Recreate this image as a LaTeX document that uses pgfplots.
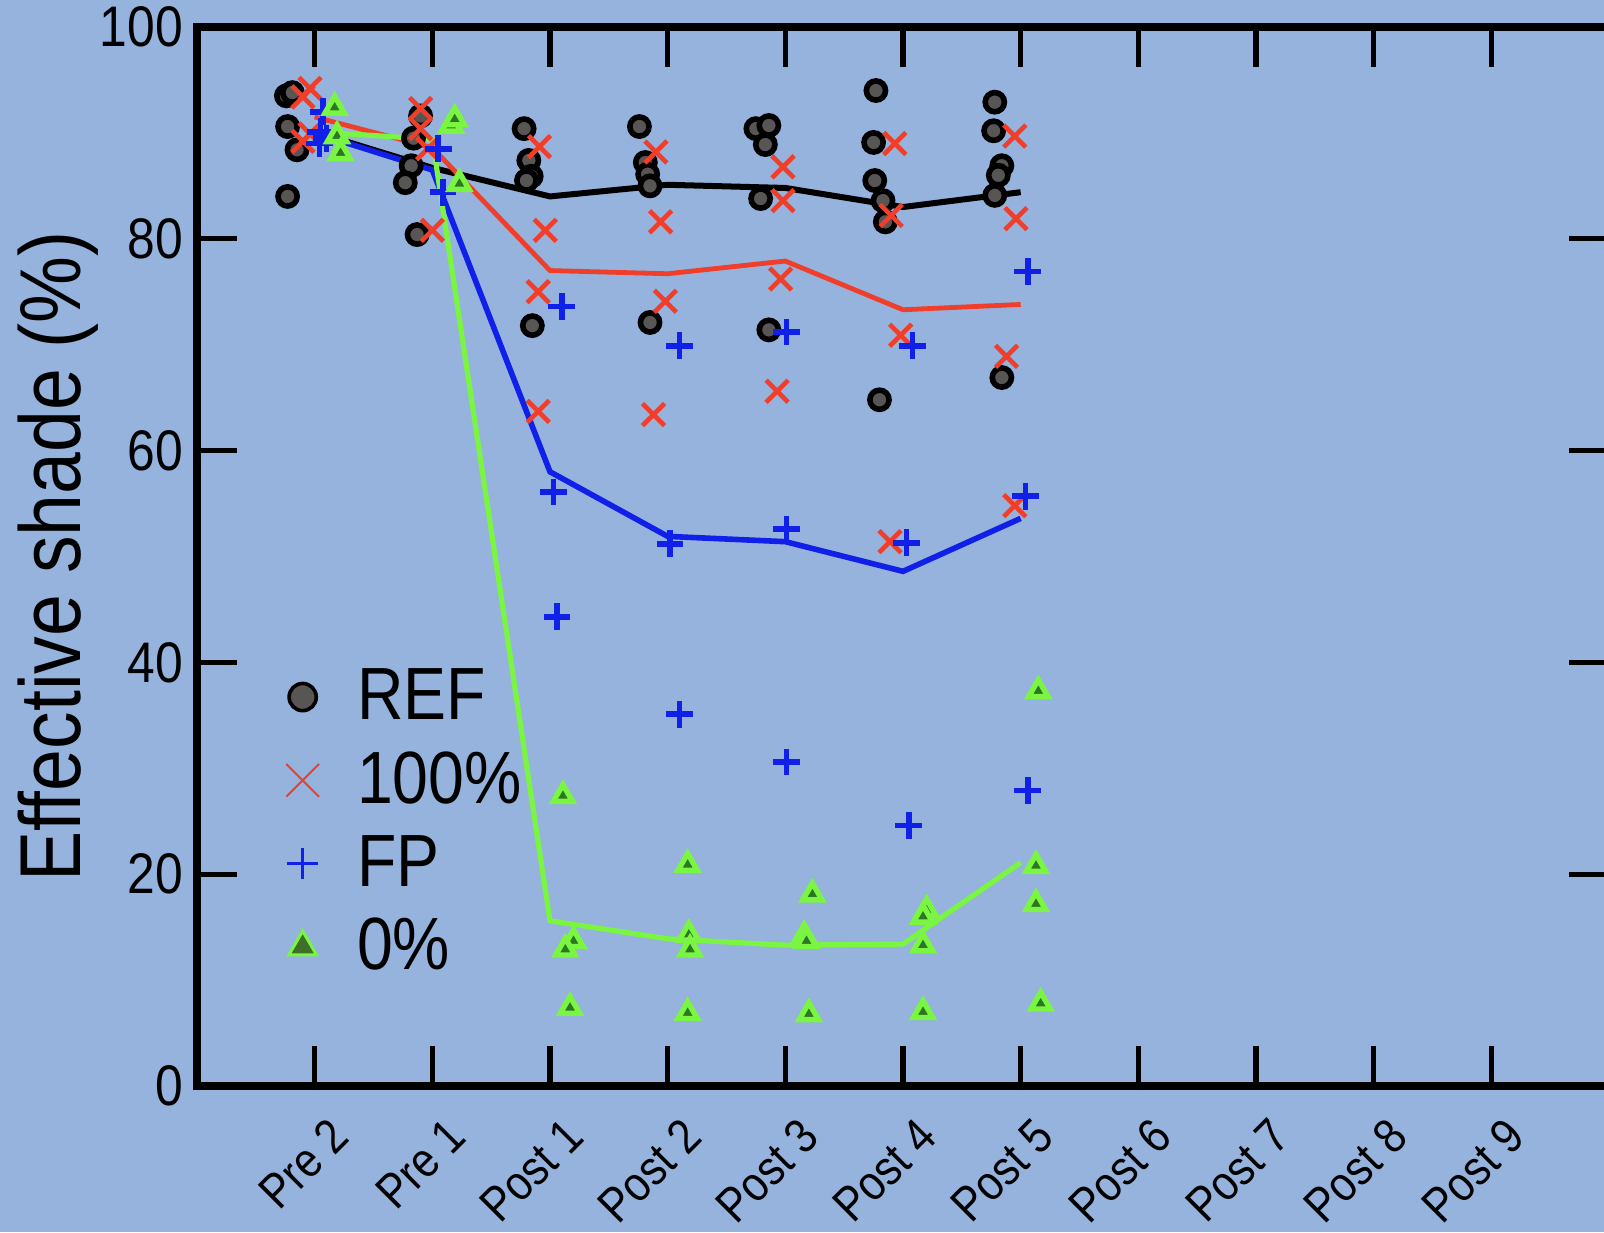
\documentclass[border=0pt]{standalone}
\usepackage{pgfplots}
\pgfplotsset{compat=1.18}
\usepackage{fontspec}
\setmainfont{Liberation Sans}[FakeStretch=0.87]
\definecolor{bg}{RGB}{149,179,220}
\definecolor{myred}{RGB}{240,62,42}
\definecolor{myblue}{RGB}{16,32,232}
\definecolor{mygreen}{RGB}{122,246,66}
\definecolor{dkgreen}{RGB}{45,118,35}
\definecolor{lgdgreen}{RGB}{62,112,42}
\definecolor{dkgrey}{RGB}{88,86,84}
\begin{document}
\begin{tikzpicture}
\path[fill=bg, use as bounding box] (0,0) rectangle (401pt,308pt);
\begin{axis}[
  at={(49.25pt,36.5pt)}, anchor=south west, scale only axis,
  width=353pt, height=264.75pt,
  xmin=0, xmax=12, ymin=0, ymax=100,
  axis line style={line width=2pt},
  tick style={line width=1.3pt, black},
  major tick length=10pt,
  tick align=inside,
  xtick={1,...,11},
  xticklabels={Pre 2, Pre 1, Post 1, Post 2, Post 3, Post 4, Post 5, Post 6, Post 7, Post 8, Post 9},
  ytick={0,20,...,100},
  xticklabel style={xshift=3pt, yshift=-2.5pt, rotate=45, anchor=north east, font=\fontsize{12.2}{12.2}\selectfont},
  yticklabel style={font=\fontsize{14.3}{14.3}\selectfont},
  /pgf/number format/assume math mode=true,
  ylabel={Effective shade (\%)},
  ylabel style={at={(axis description cs:-0.098,0.5)}, anchor=center, font=\fontsize{21.6}{21.6}\selectfont},
  legend style={at={(axis cs:0.65,41)}, anchor=north west, draw=none, fill=none,
    font=\fontsize{18.5}{18.5}\selectfont, row sep=2.5pt,
    /tikz/every odd column/.append style={column sep=7.5pt}},
  legend cell align=left,
]
% mean lines
\addplot[black, line width=1.5pt, forget plot] coordinates {(1,90.1)(2,86.7)(3,84.0)(4,85.1)(5,84.8)(6,83.0)(7,84.4)};
\addplot[myred, line width=1.2pt, forget plot] coordinates {(1,91.5)(2,88.6)(3,77.0)(4,76.7)(5,77.9)(6,73.3)(7,73.8)};
\addplot[myblue, line width=1.4pt, forget plot] coordinates {(1,90.0)(2,86.5)(3,58.0)(4,51.9)(5,51.4)(6,48.6)(7,53.6)};
\addplot[mygreen, line width=1.3pt, forget plot] coordinates {(1,90.1)(2,89.4)(3,15.6)(4,13.9)(5,13.3)(6,13.4)(7,21.1)};
% REF
\addplot[only marks, mark=*, mark size=2.4pt, mark options={draw=black, fill=dkgrey, line width=1.4pt},
  legend image post style={mark size=3.4pt, mark options={draw=black, fill=dkgrey, line width=0.9pt}}]
  coordinates {
  (0.76,93.5)(0.81,93.8)(0.77,90.6)(0.85,88.4)(0.77,84.0)
  (1.90,91.6)(1.84,89.5)(1.82,86.9)(1.77,85.3)(1.87,80.4)
  (2.78,90.4)(2.82,87.4)(2.84,85.9)(2.80,85.5)(2.85,71.8)
  (3.76,90.6)(3.81,87.2)(3.83,86.1)(3.85,85.0)(3.85,72.1)
  (4.75,90.4)(4.86,90.7)(4.83,88.9)(4.79,83.8)(4.86,71.4)
  (5.77,94.0)(5.75,89.1)(5.76,85.5)(5.83,83.6)(5.85,81.6)(5.80,64.8)
  (6.78,92.9)(6.77,90.2)(6.84,86.9)(6.81,86.0)(6.78,84.1)(6.84,66.9)
  };
\addlegendentry{REF}
% 100%
\addplot[only marks, mark=x, mark size=3.9pt, mark options={draw=myred, line width=1.15pt},
  legend image post style={mark size=5.8pt, mark options={draw=myred, line width=0.5pt}}]
  coordinates {
  (0.96,94.2)(0.90,93.4)(0.96,89.9)(0.90,89.2)
  (1.90,92.3)(1.90,90.4)(1.96,88.5)(2.00,80.8)
  (2.91,88.7)(2.96,80.8)(2.90,75.0)(2.90,63.7)
  (3.90,88.2)(3.94,81.6)(3.98,74.1)(3.88,63.4)
  (4.98,86.8)(4.98,83.6)(4.96,76.2)(4.93,65.6)
  (5.93,89.0)(5.90,82.2)(5.98,70.9)(5.89,51.4)
  (6.95,89.7)(6.96,81.9)(6.88,68.9)(6.95,54.8)
  };
\addlegendentry{100\%}
% FP
\addplot[only marks, mark=+, mark size=3.35pt, mark options={draw=myblue, line width=1.4pt},
  legend image post style={mark size=3.9pt, mark options={draw=myblue, line width=0.75pt}}]
  coordinates {
  (1.07,92.0)(1.05,90.1)(1.10,89.5)(1.04,89.0)
  (2.05,88.5)(2.09,84.4)
  (3.10,73.6)(3.03,56.1)(3.06,44.3)
  (4.10,69.9)(4.02,51.2)(4.10,35.1)
  (5.01,71.2)(5.01,52.6)(5.01,30.6)
  (6.08,69.9)(6.03,51.3)(6.05,24.6)
  (7.06,76.9)(7.04,55.7)(7.06,27.9)
  };
\addlegendentry{FP}
% 0%
\addplot[only marks, mark=triangle*, mark size=2.8pt, mark options={draw=mygreen, fill=dkgreen, line width=1.35pt},
  legend image post style={mark size=4pt, mark options={draw=mygreen, fill=lgdgreen, line width=0.75pt}}]
  coordinates {
  (1.17,92.4)(1.19,89.7)(1.22,88.1)
  (2.16,90.7)(2.19,91.3)(2.23,85.2)
  (3.11,27.4)(3.20,13.7)(3.13,12.9)(3.17,7.4)
  (4.17,20.9)(4.18,14.3)(4.19,12.9)(4.17,6.9)
  (5.23,18.1)(5.16,14.2)(5.18,13.7)(5.20,6.8)
  (6.20,16.6)(6.17,16.0)(6.17,13.3)(6.17,7.0)
  (7.15,37.3)(7.13,20.8)(7.13,17.2)(7.17,7.8)
  };
\addlegendentry{0\%}
\end{axis}
\end{tikzpicture}
\end{document}
